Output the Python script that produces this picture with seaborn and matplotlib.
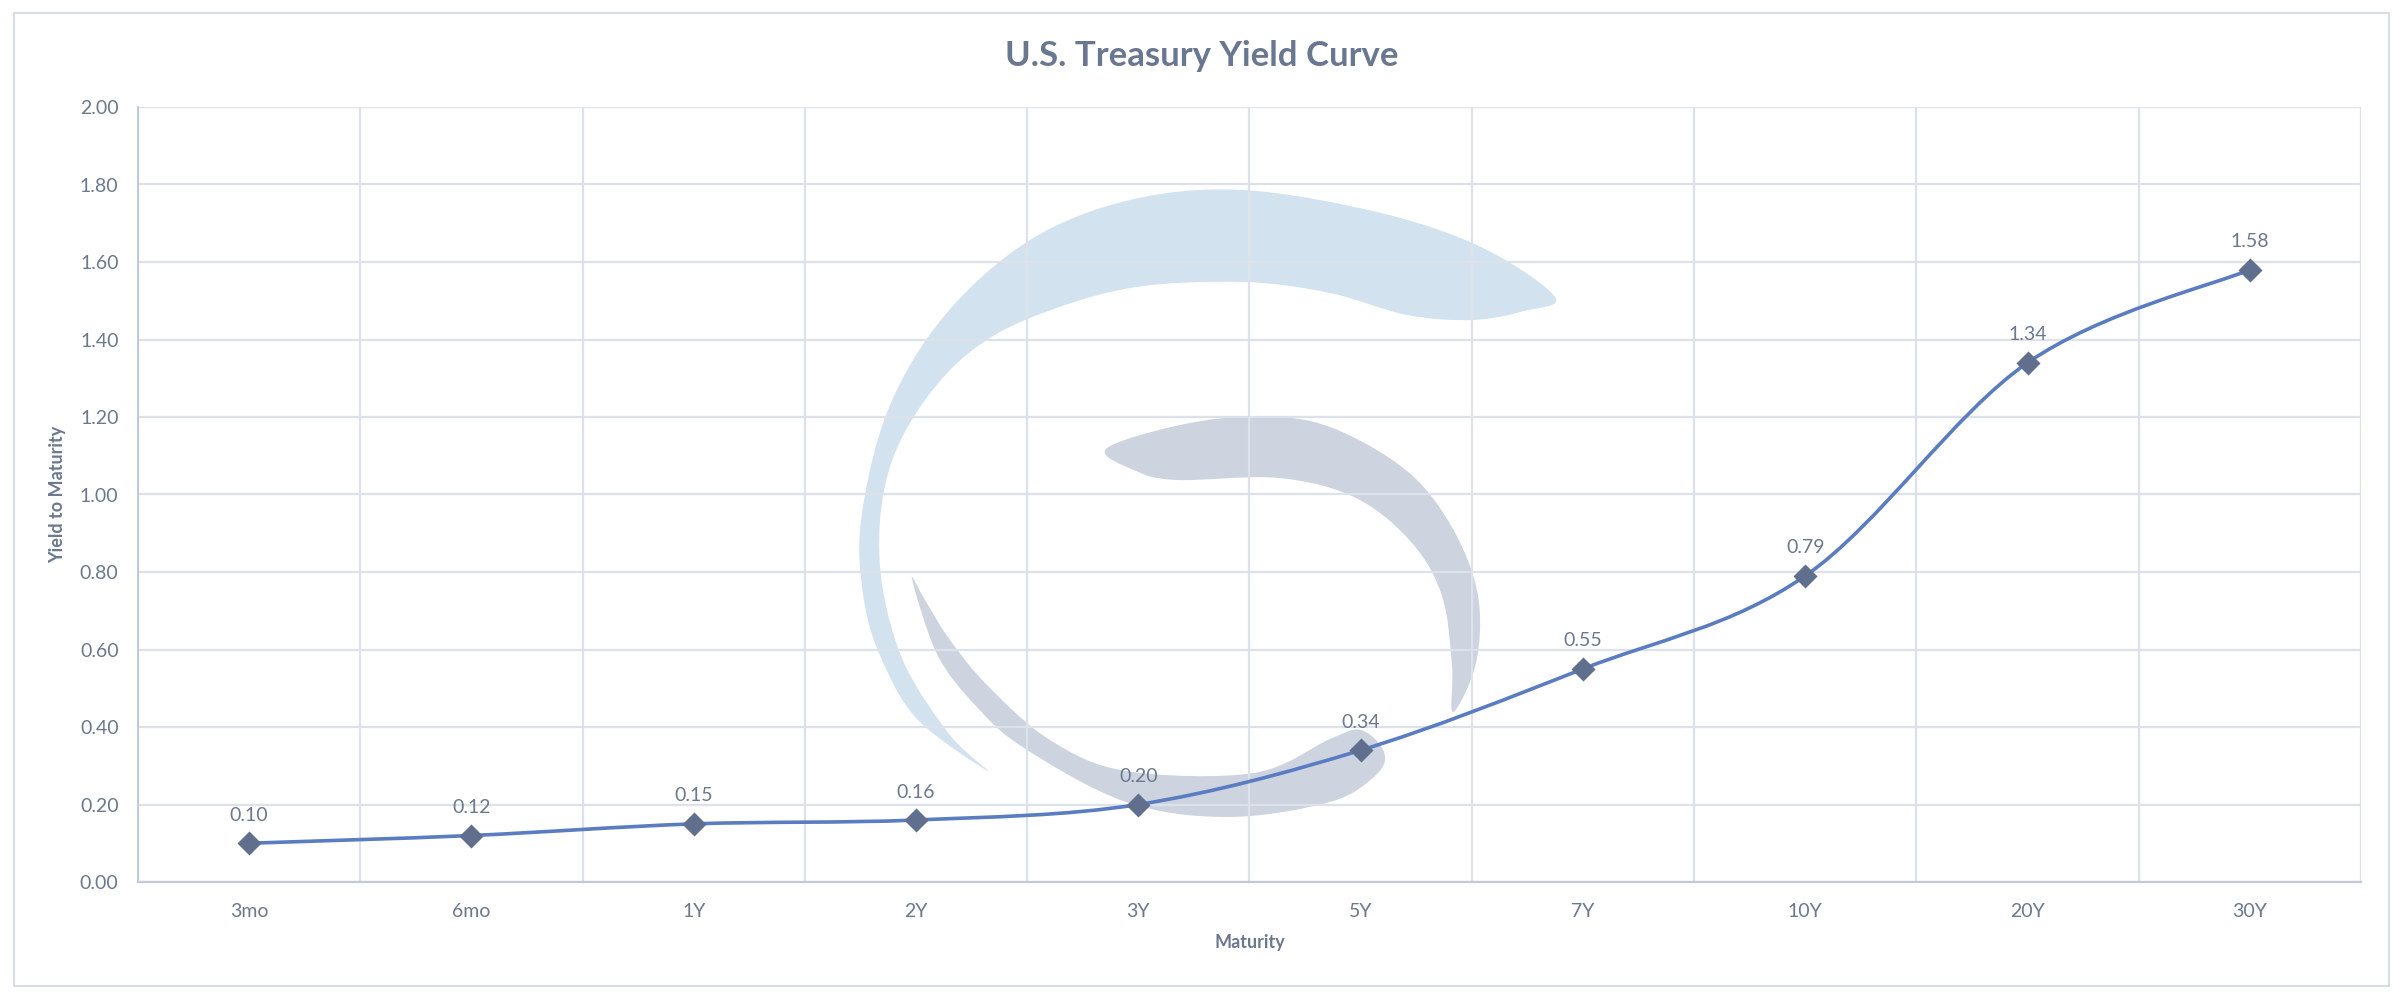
import numpy as np
import pandas as pd
import matplotlib
matplotlib.use("Agg")
import matplotlib.pyplot as plt
from matplotlib.path import Path
from matplotlib.patches import PathPatch, Rectangle
import seaborn as sns

# Data
maturities = ['3mo', '6mo', '1Y', '2Y', '3Y', '5Y', '7Y', '10Y', '20Y', '30Y']
yields = [0.10, 0.12, 0.15, 0.16, 0.20, 0.34, 0.55, 0.79, 1.34, 1.58]
y_ticks = [0.0, 0.2, 0.4, 0.6, 0.8, 1.0, 1.2, 1.4, 1.6, 1.8, 2.0]

# watermark outlines (pixel coords of the 2404x996 canvas, y down)
logo_blue = [(1555, 297), (1483, 248), (1381, 213), (1243, 190), (1130, 200), (1030, 240),
             (945, 315), (888, 410), (861, 521), (864, 600), (882, 660), (918, 720), (988, 771),
             (950, 735), (905, 665), (883, 590), (880, 521), (893, 458), (925, 400), (970, 352),
             (1030, 318), (1130, 288), (1243, 282), (1330, 293), (1407, 315), (1473, 320), (1524, 311)]
logo_grey_top = [(1106, 449), (1180, 425), (1259, 416), (1330, 427), (1407, 471), (1453, 529),
                 (1478, 596), (1476, 663), (1453, 712), (1452, 665), (1442, 596), (1412, 543),
                 (1356, 498), (1279, 478), (1177, 480), (1136, 471)]
logo_grey_bottom = [(912, 579), (937, 654), (975, 705), (1024, 748), (1126, 802), (1228, 817),
                    (1330, 802), (1376, 775), (1384, 752), (1361, 730), (1330, 739), (1254, 773),
                    (1126, 771), (1050, 740), (988, 686), (950, 640), (925, 600)]

W, H = 2404, 996
text_col = '#6b788e'
line_col = '#5a7cc0'
marker_col = '#5f6f8d'
grid_col = '#dde2ea'

sns.set_theme(style='white')
plt.rcParams['font.family'] = ['Lato', 'DejaVu Sans']


def smooth_closed(pts):
    pts = np.asarray(pts, float)
    n = len(pts)
    verts = [pts[0]]
    codes = [Path.MOVETO]
    for i in range(n):
        p0, p1, p2, p3 = pts[i - 1], pts[i], pts[(i + 1) % n], pts[(i + 2) % n]
        verts += [p1 + (p2 - p0) / 6, p2 - (p3 - p1) / 6, p2]
        codes += [Path.CURVE4] * 3
    return Path(verts, codes)


def smooth_open(xs, ys):
    # excel style smoothed line, bezier through the data points
    pts = np.column_stack([xs, ys]).astype(float)
    n = len(pts)
    verts = [pts[0]]
    codes = [Path.MOVETO]
    for i in range(n - 1):
        p0 = pts[max(i - 1, 0)]
        p1, p2 = pts[i], pts[i + 1]
        p3 = pts[min(i + 2, n - 1)]
        verts += [p1 + (p2 - p0) / 6, p2 - (p3 - p1) / 6, p2]
        codes += [Path.CURVE4] * 3
    return Path(verts, codes)


fig = plt.figure(figsize=(W / 100, H / 100), dpi=100)
fig.patch.set_facecolor('white')
ax = fig.add_axes([138 / W, 1 - 882 / H, (2361 - 138) / W, (882 - 107) / H])

# watermark
for pts, col in [(logo_blue, '#d3e2ef'), (logo_grey_top, '#cdd4e0'), (logo_grey_bottom, '#cdd4e0')]:
    fpts = [(x / W, 1 - y / H) for x, y in pts]
    ax.add_patch(PathPatch(smooth_closed(fpts), transform=fig.transFigure,
                           facecolor=col, edgecolor='none', zorder=0.3))

df = pd.DataFrame({'Maturity': maturities, 'Yield': yields})
pos = np.arange(len(maturities))

ax.add_patch(PathPatch(smooth_open(pos, yields), facecolor='none', edgecolor=line_col,
                       lw=2.6, zorder=2, capstyle='round'))
sns.scatterplot(data=df, x='Maturity', y='Yield', marker='D', s=150, color=marker_col,
                edgecolor=marker_col, linewidth=0, zorder=3, ax=ax)

for i, v in enumerate(yields):
    ax.annotate(f"{v:.2f}", (i, v), xytext=(0, 14), textcoords='offset points',
                ha='center', va='bottom', fontsize=14, color=text_col)

ax.set_xlim(-0.5, len(maturities) - 0.5)
ax.set_ylim(0, 2.0)
ax.set_yticks(y_ticks)
ax.set_yticklabels([f"{t:.2f}" for t in y_ticks])
ax.set_xticks(pos)
ax.set_xticklabels(maturities)
ax.set_xticks(np.arange(-0.5, len(maturities)), minor=True)
ax.set_axisbelow(True)
ax.grid(axis='y', which='major', color=grid_col, lw=1.6)
ax.grid(axis='x', which='minor', color=grid_col, lw=1.6)
ax.grid(axis='x', which='major', visible=False)
ax.tick_params(axis='both', which='both', length=0, labelsize=14, labelcolor=text_col)
ax.tick_params(axis='y', pad=14)
ax.tick_params(axis='x', pad=15)

for s in ['top', 'right']:
    ax.spines[s].set_visible(False)
ax.spines['left'].set_color('#bcc6d4')
ax.spines['bottom'].set_color('#c3cad6')
ax.spines['left'].set_linewidth(1.3)
ax.spines['bottom'].set_linewidth(1.6)

ax.set_xlabel('Maturity', fontsize=13, fontweight='bold', color=text_col, labelpad=10)
ax.set_ylabel('Yield to Maturity', fontsize=13, fontweight='bold', color=text_col, labelpad=10)
fig.text(0.5, 1 - 56 / H, 'U.S. Treasury Yield Curve', ha='center', va='center',
         fontsize=25, fontweight='bold', color='#6a7790')

# outer frame
fig.patches.append(Rectangle((14 / W, 1 - 986 / H), (2389 - 14) / W, (986 - 13) / H,
                             transform=fig.transFigure, fill=False, edgecolor='#d8dde4', lw=1.5))

fig.savefig('out.png', dpi=100, facecolor='white')
